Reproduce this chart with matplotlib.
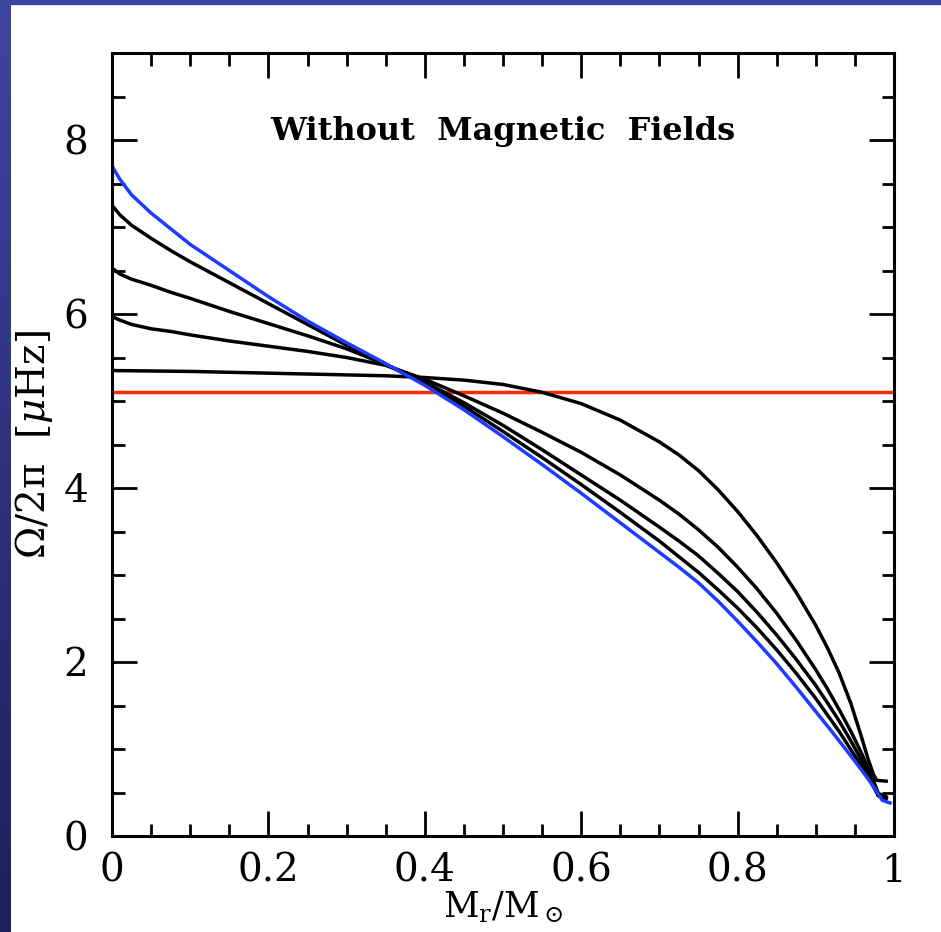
'''
    Perfil de rotación interna sin campos magnéticos
'''
import numpy as np
import matplotlib.pyplot as plt
from matplotlib.patches import Rectangle
from matplotlib.colors import LinearSegmentedColormap
from matplotlib.ticker import MultipleLocator

plt.rcParams['mathtext.fontset'] = 'dejavuserif'
plt.rcParams['font.family'] = 'DejaVu Serif'

# Datos (M_r/M_sol, Omega/2pi en microHz)
x_azul = [0, 0.01, 0.025, 0.05, 0.075, 0.1, 0.15, 0.2, 0.25, 0.3, 0.35,
          0.4, 0.45, 0.5, 0.55, 0.6, 0.65, 0.7, 0.725, 0.75, 0.775, 0.8,
          0.825, 0.85, 0.875, 0.9, 0.925, 0.95, 0.965, 0.975, 0.985, 0.995]
y_azul = [7.70, 7.55, 7.37, 7.16, 6.98, 6.80, 6.50, 6.20, 5.92, 5.67, 5.43,
          5.18, 4.90, 4.59, 4.27, 3.94, 3.60, 3.26, 3.09, 2.91, 2.70, 2.47,
          2.23, 1.98, 1.71, 1.43, 1.15, 0.86, 0.68, 0.55, 0.41, 0.38]

x_negro = [0, 0.01, 0.025, 0.05, 0.075, 0.1, 0.15, 0.2, 0.25, 0.3, 0.35,
           0.4, 0.45, 0.5, 0.55, 0.6, 0.65, 0.7, 0.725, 0.75, 0.775, 0.8,
           0.825, 0.85, 0.875, 0.9, 0.915, 0.93, 0.945, 0.958, 0.97, 0.98,
           0.99]
y_negro1 = [7.25, 7.14, 7.02, 6.87, 6.73, 6.60, 6.36, 6.12, 5.88, 5.64, 5.42,
            5.20, 4.94, 4.65, 4.35, 4.04, 3.72, 3.39, 3.21, 3.03, 2.83, 2.62,
            2.39, 2.14, 1.87, 1.58, 1.39, 1.20, 0.99, 0.81, 0.63, 0.46,
            0.43]
y_negro2 = [6.53, 6.46, 6.40, 6.33, 6.25, 6.18, 6.03, 5.89, 5.75, 5.60, 5.42,
            5.22, 4.98, 4.72, 4.44, 4.15, 3.86, 3.55, 3.39, 3.22, 3.02, 2.81,
            2.57, 2.31, 2.03, 1.73, 1.53, 1.32, 1.09, 0.88, 0.67, 0.47,
            0.43]
y_negro3 = [5.97, 5.93, 5.88, 5.83, 5.80, 5.76, 5.69, 5.63, 5.57, 5.50, 5.41,
            5.25, 5.06, 4.86, 4.64, 4.41, 4.15, 3.86, 3.70, 3.52, 3.32, 3.09,
            2.84, 2.56, 2.25, 1.91, 1.69, 1.45, 1.20, 0.96, 0.72, 0.49,
            0.45]

x_plano = [0, 0.1, 0.2, 0.3, 0.35, 0.4, 0.45, 0.5, 0.55, 0.6, 0.65, 0.7,
           0.725, 0.75, 0.775, 0.8, 0.825, 0.85, 0.875, 0.9, 0.915, 0.93,
           0.945, 0.958, 0.967, 0.974, 0.978, 0.99]
y_plano = [5.35, 5.34, 5.32, 5.30, 5.29, 5.27, 5.24, 5.19, 5.10, 4.97, 4.78,
           4.53, 4.38, 4.20, 3.98, 3.73, 3.45, 3.14, 2.80, 2.42, 2.16, 1.87,
           1.52, 1.15, 0.88, 0.70, 0.64, 0.63]

x_rojo = [0, 1]
y_rojo = [5.1, 5.1]

x_ticks = [0, 0.2, 0.4, 0.6, 0.8, 1.0]
x_etiquetas = ['0', '0.2', '0.4', '0.6', '0.8', '1']
y_ticks = [0, 2, 4, 6, 8]
y_etiquetas = ['0', '2', '4', '6', '8']

fig = plt.figure(figsize=(9.41, 9.32), dpi=100)

# Franja azul del fondo (borde izquierdo con degradado y borde superior)
ax_fondo = fig.add_axes([0, 0, 11 / 941, 1])
degradado = np.linspace(0, 1, 256).reshape(-1, 1)
cmap_fondo = LinearSegmentedColormap.from_list('fondo', ['#3d45a2', '#1d1f5c'])
ax_fondo.imshow(degradado, aspect='auto', cmap=cmap_fondo)
ax_fondo.axis('off')
fig.patches.append(Rectangle((0, 1 - 4 / 932), 1, 4 / 932,
                             transform=fig.transFigure,
                             color='#3d45a2', zorder=0))

ax = fig.add_axes([112 / 941, 96 / 932, 782 / 941, 783 / 932])

# Curvas
ax.plot(x_rojo, y_rojo, color='#ff2a00', lw=2.5)
for ys in [y_negro1, y_negro2, y_negro3]:
    ax.plot(x_negro, ys, color='black', lw=2.5)
ax.plot(x_plano, y_plano, color='black', lw=2.5)
ax.plot(x_azul, y_azul, color='#1e3cff', lw=2.5)

# Ejes
ax.set_xlim(0, 1)
ax.set_ylim(0, 9)
ax.xaxis.set_minor_locator(MultipleLocator(0.05))
ax.yaxis.set_minor_locator(MultipleLocator(0.5))
ax.set_xticks(x_ticks)
ax.set_xticklabels(x_etiquetas)
ax.set_yticks(y_ticks)
ax.set_yticklabels(y_etiquetas)

ax.tick_params(which='both', direction='in', top=True, right=True, width=2)
ax.tick_params(which='major', length=18, labelsize=28)
ax.tick_params(which='minor', length=9)
ax.tick_params(axis='x', pad=12)
ax.tick_params(axis='y', pad=17)
for lado in ax.spines.values():
    lado.set_linewidth(2.2)

ax.text(0.5, 8.0, 'Without  Magnetic  Fields', ha='center', va='baseline',
        fontsize=23, fontweight='bold')
ax.set_xlabel(r'M$_{\rm r}$/M$_\odot$', fontsize=25, labelpad=0)
ax.set_ylabel(r'Ω/2π  [$\mu$Hz]', fontsize=28, labelpad=6)

plt.savefig('out.png', dpi=100)
